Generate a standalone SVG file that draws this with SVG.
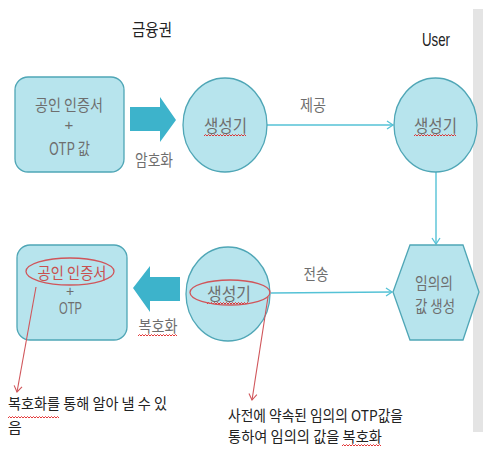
<svg xmlns="http://www.w3.org/2000/svg" width="483" height="450" viewBox="0 0 483 450">
<defs>
<style>
.node{fill:#b7e4ed;stroke:#4fa6b6;stroke-width:1.3}
.big{fill:#3db3cb;stroke:none}
.t{font-family:"Noto Sans CJK KR","Noto Sans",sans-serif;font-size:16px;fill:#6e6e6e;text-anchor:middle}
.lat{font-family:"Liberation Sans",Arial,sans-serif;fill:#6e6e6e;text-anchor:middle}
.tl{font-family:"Noto Sans CJK KR","Noto Sans",sans-serif;font-size:15px;fill:#222}
.lbl{font-family:"Noto Sans CJK KR","Noto Sans",sans-serif;font-size:16px;fill:#6e6e6e;text-anchor:middle}
.con{fill:none;stroke:#55c2d6;stroke-width:1.4}
.red{fill:none;stroke:#d0555a;stroke-width:1.1}
.wavy{fill:none;stroke:#e02020;stroke-width:0.9}
</style>
<marker id="ac" markerUnits="userSpaceOnUse" markerWidth="10" markerHeight="10" refX="8" refY="5" orient="auto">
<path d="M2,1 L8,5 L2,9" fill="none" stroke="#55c2d6" stroke-width="1.3"/>
</marker>
<marker id="ar" markerUnits="userSpaceOnUse" markerWidth="10" markerHeight="10" refX="8" refY="5" orient="auto">
<path d="M2,1 L8,5 L2,9" fill="none" stroke="#d0555a" stroke-width="1.1"/>
</marker>
</defs>
<rect x="0" y="0" width="483" height="450" fill="#ffffff"/>
<rect x="473" y="9" width="10" height="423" fill="#e4e4e4"/>

<text x="132" y="36" font-family="'Noto Sans CJK KR',sans-serif" font-size="17" fill="#222" textLength="40" lengthAdjust="spacingAndGlyphs">금융권</text>
<text x="422" y="46" font-family="'Liberation Sans',Arial,sans-serif" font-size="19" fill="#222" textLength="28" lengthAdjust="spacingAndGlyphs">User</text>

<g id="connectors">
<line class="con" x1="267" y1="125" x2="393" y2="125" marker-end="url(#ac)"/>
<line class="con" x1="436" y1="172" x2="436" y2="244" marker-end="url(#ac)"/>
<line class="con" x1="271" y1="293" x2="392" y2="292" marker-end="url(#ac)"/>
<polygon class="big" points="130,107 160,107 160,97 176,120 160,142 160,131 130,131"/>
<polygon class="big" points="180,277 150,277 150,266 133,288 150,312 150,301 180,301"/>
<text class="lbl" x="313" y="111" textLength="26" lengthAdjust="spacingAndGlyphs">제공</text>
<text class="lbl" x="316" y="280" textLength="25" lengthAdjust="spacingAndGlyphs">전송</text>
<text class="lbl" x="154" y="166" textLength="38" lengthAdjust="spacingAndGlyphs">암호화</text>
<text class="lbl" x="158" y="332" textLength="39" lengthAdjust="spacingAndGlyphs">복호화</text>
<path class="wavy" d="M138,336 l1.5,-1.5 l1.5,1.5 l1.5,-1.5 l1.5,1.5 l1.5,-1.5 l1.5,1.5 l1.5,-1.5 l1.5,1.5 l1.5,-1.5 l1.5,1.5 l1.5,-1.5 l1.5,1.5 l1.5,-1.5 l1.5,1.5 l1.5,-1.5 l1.5,1.5 l1.5,-1.5 l1.5,1.5 l1.5,-1.5 l1.5,1.5 l1.5,-1.5 l1.5,1.5 l1.5,-1.5 l1.5,1.5 l1.5,-1.5 l1.5,1.5"/>
</g>

<g id="cert-top">
<rect class="node" x="15" y="77" width="109" height="95" rx="13"/>
<text class="t" x="69" y="111" textLength="68" lengthAdjust="spacingAndGlyphs">공인 인증서</text>
<text class="lat" x="69" y="130" style="font-size:15px">+</text>
<text class="t" x="69.5" y="155" style="font-size:17px" textLength="41" lengthAdjust="spacingAndGlyphs">OTP 값</text>
</g>

<g id="gen-bank">
<ellipse class="node" cx="225" cy="125" rx="42" ry="47"/>
<text class="t" x="225.5" y="132" style="font-size:17px" textLength="43" lengthAdjust="spacingAndGlyphs">생성기</text>
<path class="wavy" d="M204,136 l1.5,-1.5 l1.5,1.5 l1.5,-1.5 l1.5,1.5 l1.5,-1.5 l1.5,1.5 l1.5,-1.5 l1.5,1.5 l1.5,-1.5 l1.5,1.5 l1.5,-1.5 l1.5,1.5 l1.5,-1.5 l1.5,1.5 l1.5,-1.5 l1.5,1.5 l1.5,-1.5 l1.5,1.5 l1.5,-1.5 l1.5,1.5 l1.5,-1.5 l1.5,1.5 l1.5,-1.5 l1.5,1.5 l1.5,-1.5 l1.5,1.5 l1.5,-1.5 l1.5,1.5"/>
</g>

<g id="gen-user">
<ellipse class="node" cx="435.5" cy="125" rx="41.5" ry="47"/>
<text class="t" x="435.5" y="132" style="font-size:17px" textLength="43" lengthAdjust="spacingAndGlyphs">생성기</text>
<path class="wavy" d="M414,136 l1.5,-1.5 l1.5,1.5 l1.5,-1.5 l1.5,1.5 l1.5,-1.5 l1.5,1.5 l1.5,-1.5 l1.5,1.5 l1.5,-1.5 l1.5,1.5 l1.5,-1.5 l1.5,1.5 l1.5,-1.5 l1.5,1.5 l1.5,-1.5 l1.5,1.5 l1.5,-1.5 l1.5,1.5 l1.5,-1.5 l1.5,1.5 l1.5,-1.5 l1.5,1.5 l1.5,-1.5 l1.5,1.5 l1.5,-1.5 l1.5,1.5 l1.5,-1.5 l1.5,1.5"/>
</g>

<g id="random-gen">
<polygon class="node" points="393,292 410,245 463,245 479,292 463,340 410,340"/>
<text class="t" x="434" y="289" textLength="38" lengthAdjust="spacingAndGlyphs">임의의</text>
<text class="t" x="435" y="312" textLength="40" lengthAdjust="spacingAndGlyphs">값 생성</text>
</g>

<g id="gen-decrypt">
<ellipse class="node" cx="228" cy="294" rx="42" ry="47"/>
<text class="t" x="229" y="300" style="font-size:17px" textLength="44" lengthAdjust="spacingAndGlyphs">생성기</text>
<path class="wavy" d="M207,304 l1.5,-1.5 l1.5,1.5 l1.5,-1.5 l1.5,1.5 l1.5,-1.5 l1.5,1.5 l1.5,-1.5 l1.5,1.5 l1.5,-1.5 l1.5,1.5 l1.5,-1.5 l1.5,1.5 l1.5,-1.5 l1.5,1.5 l1.5,-1.5 l1.5,1.5 l1.5,-1.5 l1.5,1.5 l1.5,-1.5 l1.5,1.5 l1.5,-1.5 l1.5,1.5 l1.5,-1.5 l1.5,1.5 l1.5,-1.5 l1.5,1.5 l1.5,-1.5 l1.5,1.5"/>
<ellipse cx="230" cy="292.5" rx="40" ry="12.5" fill="none" stroke="#d0555a" stroke-width="1.3"/>
</g>

<g id="cert-bottom">
<rect class="node" x="17" y="245" width="110" height="95" rx="13"/>
<text x="72" y="279" font-family="'Noto Sans CJK KR',sans-serif" font-size="16" fill="#c8504f" text-anchor="middle" textLength="69" lengthAdjust="spacingAndGlyphs">공인 인증서</text>
<ellipse cx="70" cy="271.5" rx="44" ry="13.5" fill="none" stroke="#d0555a" stroke-width="1.3"/>
<text class="lat" x="70" y="296" style="font-size:14px">+</text>
<text class="lat" x="70.5" y="314" style="font-size:17px" textLength="23" lengthAdjust="spacingAndGlyphs">OTP</text>
</g>

<g id="annotations">
<line class="red" x1="36" y1="287" x2="17" y2="392" marker-end="url(#ar)"/>
<line class="red" x1="268" y1="297" x2="252" y2="400" marker-end="url(#ar)"/>
<text class="tl" x="8" y="409" textLength="159" lengthAdjust="spacingAndGlyphs">복호화를 통해 알아 낼 수 있</text>
<text class="tl" x="8" y="433">음</text>
<path class="wavy" d="M8,418 l1.5,-1.5 l1.5,1.5 l1.5,-1.5 l1.5,1.5 l1.5,-1.5 l1.5,1.5 l1.5,-1.5 l1.5,1.5 l1.5,-1.5 l1.5,1.5 l1.5,-1.5 l1.5,1.5 l1.5,-1.5 l1.5,1.5 l1.5,-1.5 l1.5,1.5 l1.5,-1.5 l1.5,1.5 l1.5,-1.5 l1.5,1.5 l1.5,-1.5 l1.5,1.5 l1.5,-1.5 l1.5,1.5 l1.5,-1.5 l1.5,1.5 l1.5,-1.5 l1.5,1.5 l1.5,-1.5 l1.5,1.5 l1.5,-1.5 l1.5,1.5 l1.5,-1.5 l1.5,1.5"/>
<text class="tl" x="228" y="421" textLength="175" lengthAdjust="spacingAndGlyphs">사전에 약속된 임의의 OTP값을</text>
<text class="tl" x="228" y="442" textLength="154" lengthAdjust="spacingAndGlyphs">통하여 임의의 값을 복호화</text>
<path class="wavy" d="M342,446 l1.5,-1.5 l1.5,1.5 l1.5,-1.5 l1.5,1.5 l1.5,-1.5 l1.5,1.5 l1.5,-1.5 l1.5,1.5 l1.5,-1.5 l1.5,1.5 l1.5,-1.5 l1.5,1.5 l1.5,-1.5 l1.5,1.5 l1.5,-1.5 l1.5,1.5 l1.5,-1.5 l1.5,1.5 l1.5,-1.5 l1.5,1.5 l1.5,-1.5 l1.5,1.5 l1.5,-1.5 l1.5,1.5 l1.5,-1.5 l1.5,1.5"/>
</g>
</svg>
